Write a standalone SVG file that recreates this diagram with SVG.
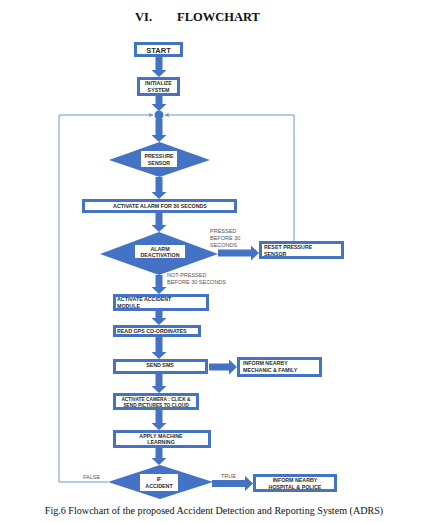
<svg xmlns="http://www.w3.org/2000/svg" width="426" height="523" viewBox="0 0 426 523">
<style>
.box{fill:#fff;stroke:#4472C4;stroke-width:3}
.dia{fill:#4472C4}
.inner{fill:#fff}
.arr{fill:#4472C4}
.thin{fill:none;stroke:#7094CC;stroke-width:1}
.t{font-family:"Liberation Sans",Arial,sans-serif;font-weight:bold;font-size:5.3px;fill:#2a2a2a;text-anchor:middle}
.tl{font-family:"Liberation Sans",Arial,sans-serif;font-weight:bold;font-size:5.3px;fill:#2a2a2a}
.lab{font-family:"Liberation Sans",Arial,sans-serif;font-size:5.5px;fill:#555}
.title{font-family:"Liberation Serif","Times New Roman",serif;font-weight:bold;font-size:12.5px;fill:#111}
.cap{font-family:"Liberation Serif","Times New Roman",serif;font-size:10.1px;fill:#111}
</style>
<defs>
<marker id="ah" viewBox="0 0 6 6" refX="5.5" refY="3" markerWidth="4" markerHeight="4" orient="auto">
<path d="M0,0 L6,3 L0,6 z" fill="#7094CC"/>
</marker>
</defs>
<text class="title" x="135" y="21">VI.</text>
<text class="title" x="177" y="21">FLOWCHART</text>

<g id="connectors">
<polyline class="thin" points="108,482 59,482 59,115 153,115" marker-end="url(#ah)"/>
<polyline class="thin" points="294,241 294,115 165,115" marker-end="url(#ah)"/>
<polygon class="arr" points="155.5,57 162.5,57 162.5,70 166.5,70 159,77 151.5,70 155.5,70"/>
<polygon class="arr" points="155.5,96 162.5,96 162.5,104 166.5,104 159,111 151.5,104 155.5,104"/>
<polygon class="arr" points="155.5,119 162.5,119 162.5,135 166.5,135 159,142 151.5,135 155.5,135"/>
<polygon class="arr" points="155.5,177 162.5,177 162.5,192 166.5,192 159,199 151.5,192 155.5,192"/>
<polygon class="arr" points="155.5,213 162.5,213 162.5,225 166.5,225 159,232 151.5,225 155.5,225"/>
<polygon class="arr" points="155.5,275 162.5,275 162.5,287 166.5,287 159,294 151.5,287 155.5,287"/>
<polygon class="arr" points="155.5,311 162.5,311 162.5,318 166.5,318 159,325 151.5,318 155.5,318"/>
<polygon class="arr" points="155.5,337 162.5,337 162.5,352 166.5,352 159,359 151.5,352 155.5,352"/>
<polygon class="arr" points="155.5,374 162.5,374 162.5,386 166.5,386 159,393 151.5,386 155.5,386"/>
<polygon class="arr" points="155.5,410 162.5,410 162.5,423 166.5,423 159,430 151.5,423 155.5,423"/>
<polygon class="arr" points="155.5,448 162.5,448 162.5,458 166.5,458 159,465 151.5,458 155.5,458"/>
<polygon class="arr" points="218,249.5 251,249.5 251,245.5 259,253 251,260.5 251,256.5 218,256.5"/>
<polygon class="arr" points="209,363.5 229,363.5 229,359.5 237,367 229,374.5 229,370.5 209,370.5"/>
<polygon class="arr" points="212,480 245,480 245,476 253,483.5 245,491 245,487 212,487"/>
<text class="lab" x="210" y="233">PRESSED</text>
<text class="lab" x="210" y="240">BEFORE 30</text>
<text class="lab" x="210" y="247">SECONDS</text>
<text class="lab" x="167" y="277">NOT-PRESSED</text>
<text class="lab" x="167" y="284">BEFORE 30 SECONDS</text>
<text class="lab" x="83" y="479">FALSE</text>
<text class="lab" x="221" y="478">TRUE</text>
</g>

<g id="junction"><circle cx="159" cy="115" r="4.5" fill="#4472C4"/></g>

<g id="start">
<rect class="box" x="135.5" y="43.5" width="46" height="12"/>
<text class="t" x="158.5" y="52.5" style="font-size:7.5px">START</text>
</g>
<g id="init">
<rect class="box" x="138.5" y="78.5" width="40" height="16"/>
<text class="t" x="158.5" y="85">INITIALIZE</text>
<text class="t" x="158.5" y="91.5">SYSTEM</text>
</g>
<g id="pressure">
<polygon class="dia" points="159.5,142 210,160 159.5,177 109,160"/>
<rect class="inner" x="141" y="151" width="36" height="16"/>
<text class="t" x="159" y="157.5">PRESSURE</text>
<text class="t" x="159" y="164.5">SENSOR</text>
</g>
<g id="alarm">
<rect class="box" x="83.5" y="200.5" width="152" height="11"/>
<text class="t" x="160" y="208">ACTIVATE ALARM FOR 30 SECONDS</text>
</g>
<g id="deact">
<polygon class="dia" points="159,232 218,254 159,275 100,254"/>
<rect class="inner" x="135" y="245" width="50" height="13"/>
<text class="t" x="160" y="250.5">ALARM</text>
<text class="t" x="160" y="257">DEACTIVATION</text>
</g>
<g id="reset">
<rect class="box" x="260.5" y="242.5" width="82" height="15"/>
<text class="tl" x="264" y="249">RESET PRESSURE</text>
<text class="tl" x="264" y="256">SENSOR</text>
</g>
<g id="module">
<rect class="box" x="114.5" y="295.5" width="93" height="14"/>
<text class="tl" x="117" y="301">ACTIVATE ACCIDENT</text>
<text class="tl" x="117" y="308">MODULE</text>
</g>
<g id="gps">
<rect class="box" x="114.5" y="326.5" width="85" height="9"/>
<text class="tl" x="117" y="333">READ GPS CO-ORDINATES</text>
</g>
<g id="sms">
<rect class="box" x="114.5" y="360.5" width="92" height="12"/>
<text class="t" x="160" y="367">SEND SMS</text>
</g>
<g id="mechanic">
<rect class="box" x="238.5" y="358.5" width="82" height="17"/>
<text class="tl" x="243" y="365">INFORM NEARBY</text>
<text class="tl" x="243" y="372">MECHANIC &amp; FAMILY</text>
</g>
<g id="camera">
<rect class="box" x="114.5" y="394.5" width="83" height="14"/>
<text class="t" x="156" y="401" style="font-size:4.8px">ACTIVATE CAMERA : CLICK &amp;</text>
<text class="t" x="156" y="407" style="font-size:4.8px">SEND PICTURES TO CLOUD</text>
</g>
<g id="ml">
<rect class="box" x="114.5" y="431.5" width="95" height="15"/>
<text class="t" x="161" y="437.5">APPLY MACHINE</text>
<text class="t" x="161" y="444">LEARNING</text>
</g>
<g id="ifacc">
<polygon class="dia" points="160,465 213,482 160,499 108,482"/>
<rect class="inner" x="140" y="474" width="38" height="17"/>
<text class="t" x="159" y="481">IF</text>
<text class="t" x="159" y="488">ACCIDENT</text>
</g>
<g id="hospital">
<rect class="box" x="254.5" y="475.5" width="81" height="15"/>
<text class="t" x="295" y="481.5">INFORM NEARBY</text>
<text class="t" x="295" y="489">HOSPITAL &amp; POLICE</text>
</g>

<text class="cap" x="214" y="514" text-anchor="middle">Fig.6 Flowchart of the proposed Accident Detection and Reporting System (ADRS)</text>
</svg>
